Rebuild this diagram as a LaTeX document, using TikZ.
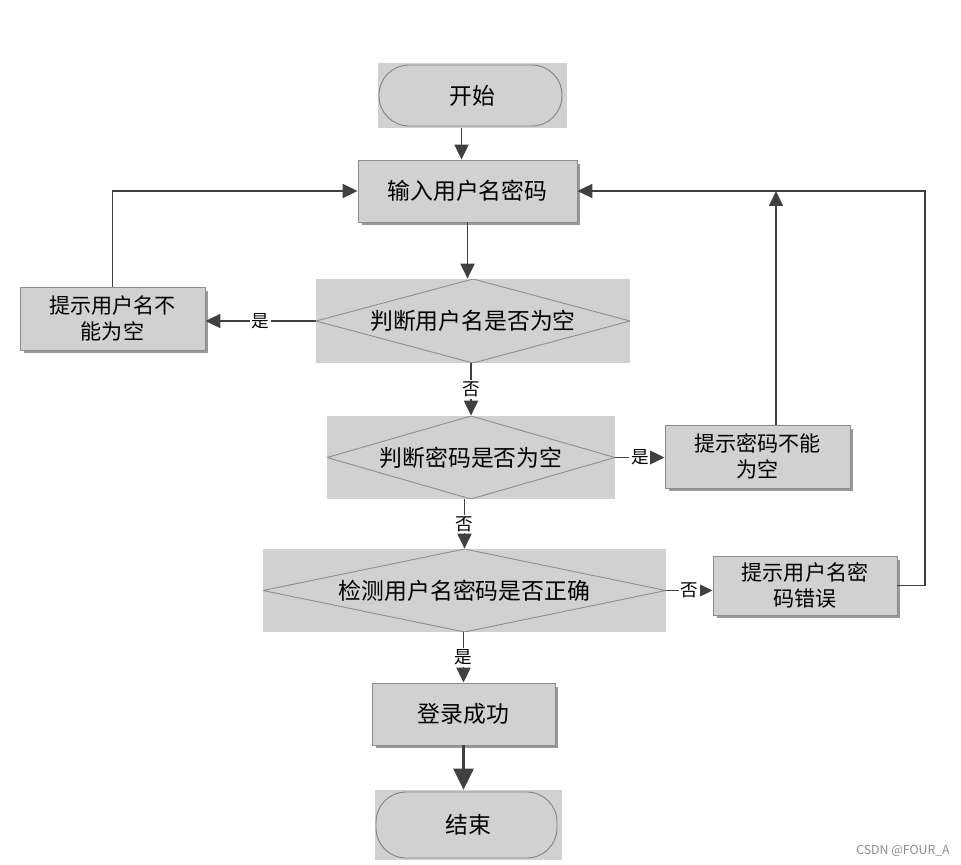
\documentclass[tikz,border=0pt]{standalone}
\usepackage{fontspec}
\setmainfont{Noto Sans CJK SC}
\usetikzlibrary{arrows.meta, shadows}

\begin{document}
\begin{tikzpicture}[x=0.02cm, y=-0.02cm,
    font=\fontsize{13}{15}\selectfont,
    line/.style={draw=black!75, line width=1.1pt},
    arr/.style={line, -{Triangle[length=0.3cm, width=0.28cm]}},
    lab/.style={fill=white, inner sep=1pt, font=\fontsize{10}{12}\selectfont},
    proc/.style={draw=black!45, fill=black!18, line width=0.5pt, inner sep=2pt,
        drop shadow={shadow xshift=0.07cm, shadow yshift=-0.07cm, opacity=1, fill=black!40}},
    msg/.style={proc, align=center, font=\fontsize{12}{15}\selectfont},
    term/.style={fill=black!18, inner sep=0pt,
        path picture={\draw[black!50, line width=0.5pt, rounded corners=0.6cm]
            ([shift={(0.02cm,-0.04cm)}]path picture bounding box.north west) rectangle
            ([shift={(-0.1cm,0.04cm)}]path picture bounding box.south east);}},
    decide/.style={fill=black!18, inner sep=0pt,
        path picture={\draw[black!45, line width=0.5pt]
            (path picture bounding box.west) -- (path picture bounding box.north) --
            (path picture bounding box.east) -- (path picture bounding box.south) -- cycle;}}]
    \useasboundingbox (0,0) rectangle (961,865);

    % start / end
    \node[term, minimum width=3.78cm, minimum height=1.3cm] (start) at (472.5,95.5) {开始};
    \node[term, minimum width=3.74cm, minimum height=1.4cm] (stop) at (468.5,825) {结束};

    % boxes
    \node[proc, minimum width=4.38cm, minimum height=1.24cm] (input) at (467.5,191) {输入用户名密码};
    \node[msg, minimum width=3.7cm, minimum height=1.26cm] (nameEmpty) at (112.5,318.5) {提示用户名不\\能为空};
    \node[msg, minimum width=3.7cm, minimum height=1.26cm] (pwdEmpty) at (757.5,456.5) {提示密码不能\\为空};
    \node[msg, minimum width=3.68cm, minimum height=1.18cm] (wrong) at (805,585.5) {提示用户名密\\码错误};
    \node[proc, minimum width=3.66cm, minimum height=1.24cm] (ok) at (463.5,714) {登录成功};

    % decisions
    \node[decide, minimum width=6.28cm, minimum height=1.68cm] (chkName) at (473,321) {判断用户名是否为空};
    \node[decide, minimum width=5.76cm, minimum height=1.66cm] (chkPwd) at (471,457.5) {判断密码是否为空};
    \node[decide, minimum width=8.06cm, minimum height=1.66cm] (chkAll) at (464.5,590.5) {检测用户名密码是否正确};

    \coordinate (upTip) at (776,191);

    % connectors
    \draw[arr] ([xshift=-0.22cm]start.south) -- ([xshift=-0.22cm]start.south |- input.north);
    \draw[arr] (input.south) -- (input.south |- chkName.north);
    \draw[arr] (chkName.west) -- node[lab] {是} (chkName.west -| nameEmpty.east);
    \draw[arr] (nameEmpty.north) |- (input.west);
    \draw[arr] (chkName.south -| chkPwd.north) -- node[lab] {否} (chkPwd.north);
    \draw[arr] (chkPwd.east) -- node[lab] {是} (chkPwd.east -| pwdEmpty.west);
    \draw[arr] (pwdEmpty.north -| upTip) -- (upTip);
    \draw[arr] (chkPwd.south -| chkAll.north) -- node[lab] {否} (chkAll.north);
    \draw[arr] (chkAll.east) -- node[lab] {否} (chkAll.east -| wrong.west);
    \draw[arr] (wrong.east) -- ++(28,0) |- (input.east);
    \draw[arr] (chkAll.south -| ok.north) -- node[lab] {是} (ok.north);
    \draw[arr, line width=1.7pt, -{Triangle[length=0.42cm, width=0.4cm]}] (ok.south) -- (ok.south |- stop.north);

    \node[text=black!45, font=\fontsize{7}{8}\selectfont] (mark) at (903,851) {CSDN @FOUR\_A};
\end{tikzpicture}
\end{document}
